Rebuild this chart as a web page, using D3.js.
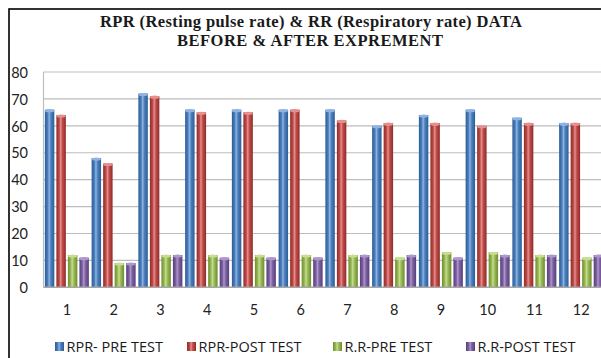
<!DOCTYPE html>
<html>
<head>
<meta charset="utf-8">
<script src="https://cdn.jsdelivr.net/npm/d3@7"></script>
<style>
  body { margin: 0; background: #fff; }
  svg { display: block; }
</style>
</head>
<body>
<div id="chart"></div>
<script>
// Data
var subjects = ["1", "2", "3", "4", "5", "6", "7", "8", "9", "10", "11", "12"];
var seriesNames = ["RPR- PRE TEST", "RPR-POST TEST", "R.R-PRE TEST", "R.R-POST TEST"];
var rprPre  = [66, 48, 72, 66, 66, 66, 66, 60, 64, 66, 63, 61];
var rprPost = [64, 46, 71, 65, 65, 66, 62, 61, 61, 60, 61, 61];
var rrPre   = [12, 9, 12, 12, 12, 12, 12, 11, 13, 13, 12, 11];
var rrPost  = [11, 9, 12, 11, 11, 11, 12, 12, 11, 12, 12, 12];
var yTicks  = [0, 10, 20, 30, 40, 50, 60, 70, 80];

var allSeries = [rprPre, rprPost, rrPre, rrPost];
var colors = ["#4a7ebb", "#be4b48", "#98b954", "#7d60a0"];
var darks  = ["#2c5d96", "#8f2b29", "#6d8c30", "#573e7a"];
var lights = ["#8fb4e3", "#e5908e", "#c6dd92", "#ad97cc"];

var W = 601, H = 358;
var margin = {top: 72, left: 43.5, bottom: 287.3};

var svg = d3.select("#chart").append("svg")
    .attr("width", W)
    .attr("height", H);

// gradients to fake the 3D cylinder look
var defs = svg.append("defs");
colors.forEach(function(c, i) {
  var g = defs.append("linearGradient")
    .attr("id", "grad" + i)
    .attr("x1", "0%").attr("x2", "100%").attr("y1", "0%").attr("y2", "0%");
  g.append("stop").attr("offset", "0%").attr("stop-color", darks[i]);
  g.append("stop").attr("offset", "30%").attr("stop-color", c);
  g.append("stop").attr("offset", "45%").attr("stop-color", lights[i]);
  g.append("stop").attr("offset", "65%").attr("stop-color", c);
  g.append("stop").attr("offset", "100%").attr("stop-color", darks[i]);
});

// outer frame
svg.append("rect")
  .attr("x", 9).attr("y", 9)
  .attr("width", W + 20).attr("height", H + 20)
  .attr("fill", "none")
  .attr("stroke", "#000")
  .attr("stroke-width", 1.6);

// Title
var title = svg.append("text")
  .attr("text-anchor", "middle")
  .style("font-family", "'Liberation Serif', 'Times New Roman', serif")
  .style("font-weight", "bold")
  .style("font-size", "16.5px")
  .attr("fill", "#1a1a1a");
title.append("tspan").attr("x", 311).attr("y", 26.5)
  .attr("textLength", 422)
  .text("RPR (Resting pulse rate) & RR (Respiratory rate) DATA");
title.append("tspan").attr("x", 310).attr("y", 46)
  .attr("textLength", 266)
  .text("BEFORE & AFTER EXPREMENT");

// scales
var x0 = d3.scaleBand()
  .domain(subjects)
  .range([margin.left, margin.left + 12 * 46.75]);

var x1 = d3.scaleBand()
  .domain(d3.range(4))
  .range([0, 44])
  .paddingInner(0.18);

var y = d3.scaleLinear()
  .domain([0, 80])
  .range([margin.bottom, margin.top]);

// gridlines
svg.append("g")
  .selectAll("line")
  .data(yTicks.filter(function(d) { return d > 0; }))
  .enter().append("line")
    .attr("x1", margin.left)
    .attr("x2", W + 5)
    .attr("y1", function(d) { return y(d); })
    .attr("y2", function(d) { return y(d); })
    .attr("stroke", "#bdbdbd")
    .attr("stroke-width", 1.2);

// plot left wall
svg.append("line")
  .attr("x1", margin.left).attr("x2", margin.left)
  .attr("y1", y(80)).attr("y2", y(0))
  .attr("stroke", "#bdbdbd")
  .attr("stroke-width", 1.2);

// y axis labels
var yAxis = d3.axisLeft(y).tickValues(yTicks).tickSize(0).tickPadding(0);
var yg = svg.append("g")
  .attr("transform", "translate(28,0)")
  .call(yAxis);
yg.select(".domain").remove();
yg.selectAll("text")
  .attr("dy", "0.36em")
  .style("font-family", "Lato, 'Open Sans', sans-serif")
  .style("font-size", "14.5px")
  .attr("fill", "#222");

// bars
var groups = svg.append("g")
  .selectAll("g")
  .data(subjects)
  .enter().append("g")
    .attr("transform", function(d) {
      return "translate(" + (x0(d) + (x0.bandwidth() - 44) / 2) + ",0)";
    });

groups.selectAll("rect.bar")
  .data(function(d, i) {
    return allSeries.map(function(s, k) { return {k: k, v: s[i]}; });
  })
  .enter().append("rect")
    .attr("class", "bar")
    .attr("x", function(d) { return x1(d.k); })
    .attr("width", x1.bandwidth())
    .attr("y", function(d) { return y(d.v); })
    .attr("height", function(d) { return y(0) - y(d.v); })
    .attr("fill", function(d) { return "url(#grad" + d.k + ")"; });

// little top caps
groups.selectAll("ellipse.cap")
  .data(function(d, i) {
    return allSeries.map(function(s, k) { return {k: k, v: s[i]}; });
  })
  .enter().append("ellipse")
    .attr("class", "cap")
    .attr("cx", function(d) { return x1(d.k) + x1.bandwidth() / 2; })
    .attr("cy", function(d) { return y(d.v) + 1; })
    .attr("rx", x1.bandwidth() / 2)
    .attr("ry", 1.6)
    .attr("fill", function(d) { return lights[d.k]; });

// floor / baseline
svg.append("line")
  .attr("x1", margin.left).attr("x2", W + 5)
  .attr("y1", y(0)).attr("y2", y(0))
  .attr("stroke", "#a6a6a6")
  .attr("stroke-width", 1.4);

// x axis labels
var xAxis = d3.axisBottom(x0).tickSize(0).tickPadding(0);
var xg = svg.append("g")
  .attr("transform", "translate(0,305)")
  .call(xAxis);
xg.select(".domain").remove();
xg.selectAll("text")
  .attr("dy", "0.71em")
  .style("font-family", "Lato, 'Open Sans', sans-serif")
  .style("font-size", "14.5px")
  .attr("fill", "#222");

// Legend
var legendX = [55, 187, 333, 466];
var legend = svg.append("g")
  .selectAll("g")
  .data(seriesNames)
  .enter().append("g")
    .attr("transform", function(d, i) { return "translate(" + legendX[i] + ",342)"; });

legend.append("rect")
  .attr("width", 9).attr("height", 9)
  .attr("fill", function(d, i) { return "url(#grad" + i + ")"; });

legend.append("text")
  .attr("x", 11.5)
  .attr("y", 9.5)
  .text(function(d) { return d; })
  .style("font-family", "'Open Sans', Lato, sans-serif")
  .style("font-size", "14.5px")
  .attr("fill", "#1a1a1a");
</script>
</body>
</html>
